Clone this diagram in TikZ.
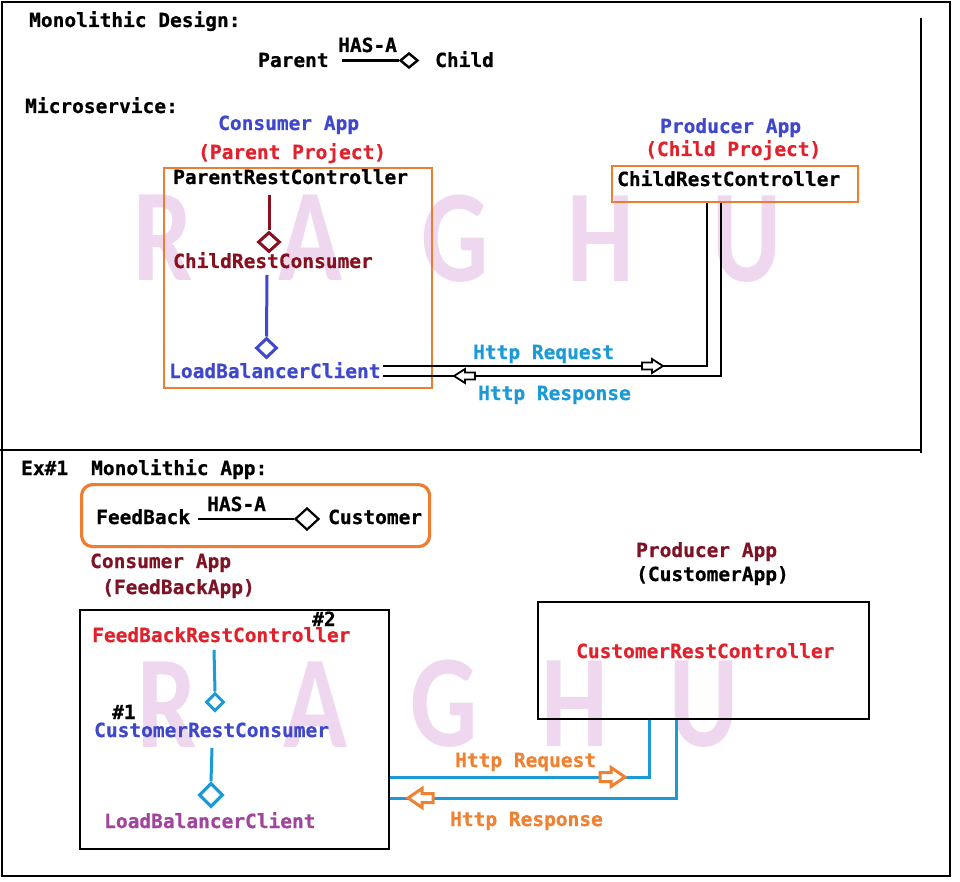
\documentclass[tikz,border=0pt]{standalone}
\usepackage{fontspec}
\setmonofont{DejaVu Sans Mono}[BoldFeatures={FakeBold=0.6}]
\newfontfamily\wmfont{Carlito}
\usetikzlibrary{shapes.geometric}
\definecolor{orangeB}{HTML}{ED7D31}
\definecolor{blueT}{HTML}{3F48CC}
\definecolor{redT}{HTML}{E1222C}
\definecolor{dred}{HTML}{880F1E}
\definecolor{dredB}{HTML}{7E1326}
\definecolor{cyanT}{HTML}{1C9AD6}
\definecolor{orangeT}{HTML}{EE8232}
\definecolor{purp}{HTML}{A0449E}
\definecolor{wmcol}{HTML}{EED7EF}
\tikzset{
  txt/.style={font=\ttfamily\bfseries\fontsize{19.5}{22}\selectfont, inner sep=0pt, anchor=base west},
  wm/.style={font=\wmfont\bfseries\fontsize{132}{132}\selectfont, text=wmcol, xscale=0.8, inner sep=0pt},
  dia/.style={diamond, draw, inner sep=0pt, fill=none},
  obox/.style={draw=orangeB, line width=2.2pt, inner sep=0pt, anchor=north west},
  kbox/.style={draw=black, line width=2.2pt, inner sep=0pt, anchor=north west},
  pics/arrT/.style={code={\draw[line width=1.8pt, fill=white, line join=miter] (-10,-3.5) -- (0,-3.5) -- (0,-7) -- (11,0) -- (0,7) -- (0,3.5) -- (-10,3.5) -- cycle;}},
  pics/arrB/.style={code={\draw[orangeT, line width=3pt, fill=white, line join=miter] (-11,-4.5) -- (0,-4.5) -- (0,-9.5) -- (14,0) -- (0,9.5) -- (0,4.5) -- (-11,4.5) -- cycle;}}
}
\begin{document}
\begin{tikzpicture}[x=1pt,y=-1pt]
\useasboundingbox (0,0) rectangle (960,882);
\fill[white] (0,0) rectangle (960,882);
% watermark
\node[wm] (w1) at (163,238) {R};
\node[wm] (w2) at (310,238) {A};
\node[wm] (w3) at (455,239) {G};
\node[wm] (w4) at (601,239) {H};
\node[wm] (w5) at (747,239) {U};
\node[wm] (w6) at (167,705) {R};
\node[wm] (w7) at (315,705) {A};
\node[wm] (w8) at (444,704) {G};
\node[wm] (w9) at (575,704) {H};
\node[wm] (w10) at (704,704) {U};
% frame
\draw[line width=2.8pt] (2,2) rectangle (950,876);
\coordinate (dl) at (0,450);
\coordinate (dr) at (921,450);
\coordinate (vt) at (921,18);
\coordinate (vb) at (921,453);
\draw[line width=2.4pt] (dl) -- (dr);
\draw[line width=2.2pt] (vt) -- (vb);
% ---------- top ----------
\node[txt] (t1) at (29,27) {Monolithic Design:};
\node[txt] (par) at (258,67) {Parent};
\node[txt] (hasa1) at (338,52) {HAS-A};
\node[txt] (chi) at (435,67) {Child};
\coordinate (h1s) at (342,60.5);
\node[dia, line width=2.4pt, minimum width=18pt, minimum height=15pt] (hd1) at (409,60.5) {};
\draw[line width=2.4pt] (h1s) -- (hd1.west);
\node[txt] (micro) at (25,113) {Microservice:};
\node[txt, text=blueT] (capp) at (218,130) {Consumer App};
\node[txt, text=redT] (pp) at (198,159) {(Parent Project)};
\node[obox, minimum width=268pt, minimum height=220pt] (cbox) at (163,167) {};
\node[txt] (prc) at (173,184) {ParentRestController};
\node[txt, text=dred] (crs1) at (173,268) {ChildRestConsumer};
\node[txt, text=blueT] (lbc1) at (169,378) {LoadBalancerClient};
\node[dia, draw=dred, line width=3pt, minimum width=22pt, minimum height=20pt] (dd1) at (269,242) {};
\coordinate (l1a) at (269,195);
\draw[dred, line width=3pt] (l1a) -- (dd1.north);
\node[dia, draw=blueT, line width=3pt, minimum width=21pt, minimum height=20pt] (bd1) at (266.5,348) {};
\coordinate (l2a) at (267,275);
\draw[blueT, line width=3pt] (l2a) -- (bd1.north);
\node[txt, text=blueT] (papp) at (660,133) {Producer App};
\node[txt, text=redT] (cp) at (645,156) {(Child Project)};
\node[obox, minimum width=246pt, minimum height=36pt] (crcbox) at (611,165) {};
\node[txt] (crc) at (617,186) {ChildRestController};
\coordinate (r1) at (383,366);
\coordinate (r2) at (383,376);
\coordinate (v1) at (707,0);
\coordinate (v2) at (721,0);
\draw[line width=2.2pt] (r1) -| (crcbox.south -| v1);
\draw[line width=2.2pt] (r2) -| (crcbox.south -| v2);
\pic at (652,366) {arrT};
\pic[rotate=180] at (465,376) {arrT};
\node[txt, text=cyanT] (hreq1) at (473,359) {Http Request};
\node[txt, text=cyanT] (hres1) at (478,400) {Http Response};
% ---------- bottom ----------
\node[txt] (ex) at (21,475) {Ex\#1};
\node[txt] (mono) at (91,475) {Monolithic App:};
\node[draw=orangeB, line width=3.2pt, rounded corners=11pt, inner sep=0pt, minimum width=348pt, minimum height=62pt, anchor=north west] (mbox) at (80,483) {};
\node[txt] (fb) at (96,524) {FeedBack};
\node[txt] (hasa2) at (207,511) {HAS-A};
\node[txt] (cust) at (328,524) {Customer};
\coordinate (h2s) at (198,519);
\node[dia, line width=2.2pt, minimum width=24pt, minimum height=22pt] (hd2) at (307,519) {};
\draw[line width=2pt] (h2s) -- (hd2.west);
\node[txt, text=dredB] (capp2) at (90,568) {Consumer App};
\node[txt, text=dredB] (fba) at (102,594) {(FeedBackApp)};
\node[kbox, minimum width=309pt, minimum height=239pt] (fbox) at (79,609) {};
\node[txt] (n2) at (312,626) {\#2};
\node[txt, text=redT] (fbrc) at (92,642) {FeedBackRestController};
\node[txt] (n1) at (112,719) {\#1};
\node[txt, text=blueT] (crs2) at (94,737) {CustomerRestConsumer};
\node[txt, text=purp] (lbc2) at (104,828) {LoadBalancerClient};
\node[dia, draw=cyanT, line width=3pt, minimum width=18pt, minimum height=18pt] (cd1) at (215,702) {};
\node[dia, draw=cyanT, line width=3.2pt, minimum width=24pt, minimum height=24pt] (cd2) at (211,795) {};
\coordinate (l3a) at (214,650);
\coordinate (l4a) at (212,748);
\draw[cyanT, line width=3pt] (l3a) -- (cd1.north);
\draw[cyanT, line width=3pt] (l4a) -- (cd2.north);
\node[txt, text=dredB] (papp2) at (636,557) {Producer App};
\node[txt] (ca) at (636,581) {(CustomerApp)};
\node[kbox, minimum width=331pt, minimum height=117pt] (pbox) at (537,601) {};
\node[txt, text=redT] (custrc) at (576,658) {CustomerRestController};
\coordinate (y3) at (0,777);
\coordinate (y4) at (0,798);
\coordinate (v3) at (649,0);
\coordinate (v4) at (676,0);
\draw[cyanT, line width=3pt] (fbox.east |- y3) -| (pbox.south -| v3);
\draw[cyanT, line width=3pt] (fbox.east |- y4) -| (pbox.south -| v4);
\pic at (611,777) {arrB};
\pic[rotate=180] at (422,798) {arrB};
\node[txt, text=orangeT] (hreq2) at (455,767) {Http Request};
\node[txt, text=orangeT] (hres2) at (450,826) {Http Response};
\end{tikzpicture}
\end{document}
